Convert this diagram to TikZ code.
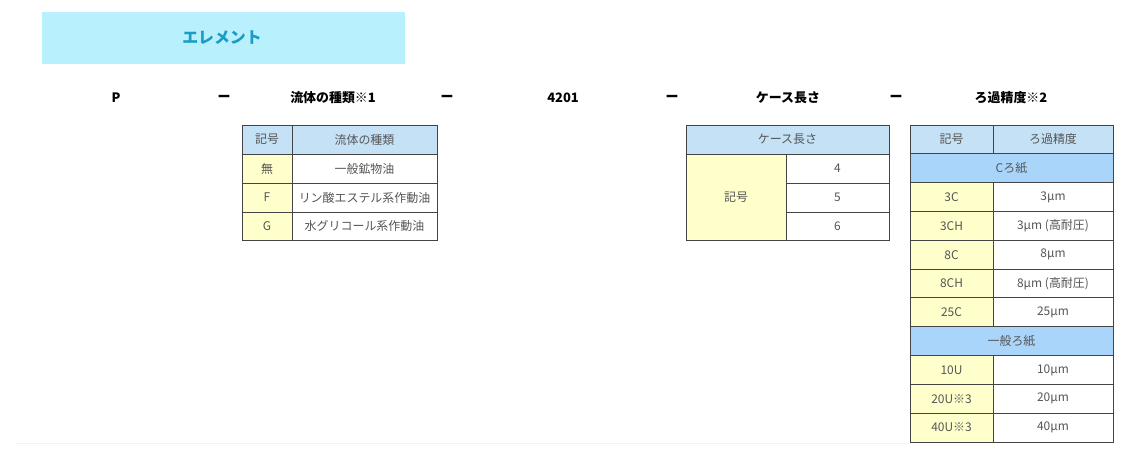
\documentclass[tikz,border=0pt]{standalone}
\usepackage{fontspec}
\setmainfont{Noto Sans CJK JP}
\usepackage{xcolor}
\usepackage{tikz}

\definecolor{titlebg}{HTML}{B9F0FD}
\definecolor{titlefg}{HTML}{1A9CC5}
\definecolor{headbg}{HTML}{C5E1F5}
\definecolor{groupbg}{HTML}{A9D5FB}
\definecolor{codebg}{HTML}{FFFFCC}
\definecolor{celltext}{HTML}{555555}
\definecolor{gridline}{HTML}{444444}

\begin{document}
\begin{tikzpicture}[x=0.025cm,y=-0.025cm,
    head/.style={font=\bfseries\fontsize{9.2}{11}\selectfont},
    cell/.style={text=celltext,font=\fontsize{8.5}{10}\selectfont},
    box/.style={draw=gridline,line width=0.7pt}]
            \useasboundingbox (0,0) rectangle (1124,450);
            % title
            \fill [titlebg] (42,12) rectangle (405,64);
            \node [text=titlefg,font=\bfseries\fontsize{11.3}{13}\selectfont] (title) at (222,38) {エレメント};
            % code line
            \node [head] (hP) at (116,98) {P};
            \node [head] (d1) at (224,98) {ー};
            \node [head] (hFluid) at (333,98) {流体の種類※1};
            \node [head] (d2) at (447,98) {ー};
            \node [head] (hNum) at (563,98) {4201};
            \node [head] (d3) at (672,98) {ー};
            \node [head] (hCase) at (788,98) {ケース長さ};
            \node [head] (d4) at (896,98) {ー};
            \node [head] (hFilter) at (1011,98) {ろ過精度※2};
            % fluid table
            \filldraw [box,fill=headbg] (242,125) rectangle (292,154);
            \filldraw [box,fill=headbg] (292,125) rectangle (437,154);
            \filldraw [box,fill=codebg] (242,154) rectangle (292,183);
            \filldraw [box,fill=white] (292,154) rectangle (437,183);
            \filldraw [box,fill=codebg] (242,183) rectangle (292,212);
            \filldraw [box,fill=white] (292,183) rectangle (437,212);
            \filldraw [box,fill=codebg] (242,212) rectangle (292,240);
            \filldraw [box,fill=white] (292,212) rectangle (437,240);
            \node [cell] (fK) at (267,139.5) {記号};
            \node [cell] (fT) at (364.5,139.5) {流体の種類};
            \node [cell] (fK1) at (267,168.5) {無};
            \node [cell] (fT1) at (364.5,168.5) {一般鉱物油};
            \node [cell] (fK2) at (267,197.5) {F};
            \node [cell] (fT2) at (364.5,197.5) {リン酸エステル系作動油};
            \node [cell] (fK3) at (267,226) {G};
            \node [cell] (fT3) at (364.5,226) {水グリコール系作動油};
            % case table
            \filldraw [box,fill=headbg] (686,125) rectangle (889,154);
            \filldraw [box,fill=codebg] (686,154) rectangle (786,240);
            \filldraw [box,fill=white] (786,154) rectangle (889,183);
            \filldraw [box,fill=white] (786,183) rectangle (889,212);
            \filldraw [box,fill=white] (786,212) rectangle (889,240);
            \node [cell] (cH) at (787.5,139.5) {ケース長さ};
            \node [cell] (cK) at (736,197) {記号};
            \node [cell] (c4) at (837.5,168.5) {4};
            \node [cell] (c5) at (837.5,197.5) {5};
            \node [cell] (c6) at (837.5,226) {6};
            % filter table
            \filldraw [box,fill=headbg] (910,125) rectangle (993,153.8);
            \filldraw [box,fill=headbg] (993,125) rectangle (1113,153.8);
            \filldraw [box,fill=groupbg] (910,153.8) rectangle (1113,182.6);
            \filldraw [box,fill=codebg] (910,182.6) rectangle (993,211.5);
            \filldraw [box,fill=white] (993,182.6) rectangle (1113,211.5);
            \filldraw [box,fill=codebg] (910,211.5) rectangle (993,240.3);
            \filldraw [box,fill=white] (993,211.5) rectangle (1113,240.3);
            \filldraw [box,fill=codebg] (910,240.3) rectangle (993,269.1);
            \filldraw [box,fill=white] (993,240.3) rectangle (1113,269.1);
            \filldraw [box,fill=codebg] (910,269.1) rectangle (993,297.9);
            \filldraw [box,fill=white] (993,269.1) rectangle (1113,297.9);
            \filldraw [box,fill=codebg] (910,297.9) rectangle (993,326.7);
            \filldraw [box,fill=white] (993,297.9) rectangle (1113,326.7);
            \filldraw [box,fill=groupbg] (910,326.7) rectangle (1113,355.5);
            \filldraw [box,fill=codebg] (910,355.5) rectangle (993,384.4);
            \filldraw [box,fill=white] (993,355.5) rectangle (1113,384.4);
            \filldraw [box,fill=codebg] (910,384.4) rectangle (993,413.2);
            \filldraw [box,fill=white] (993,384.4) rectangle (1113,413.2);
            \filldraw [box,fill=codebg] (910,413.2) rectangle (993,442);
            \filldraw [box,fill=white] (993,413.2) rectangle (1113,442);
            \node [cell] (pK) at (951.5,139.4) {記号};
            \node [cell] (pT) at (1053,139.4) {ろ過精度};
            \node [cell] (pC) at (1011.5,168.2) {Cろ紙};
            \node [cell] (pK1) at (951.5,197) {3C};
            \node [cell] (pT1) at (1053,197) {3μm};
            \node [cell] (pK2) at (951.5,225.9) {3CH};
            \node [cell] (pT2) at (1053,225.9) {3μm (高耐圧)};
            \node [cell] (pK3) at (951.5,254.7) {8C};
            \node [cell] (pT3) at (1053,254.7) {8μm};
            \node [cell] (pK4) at (951.5,283.5) {8CH};
            \node [cell] (pT4) at (1053,283.5) {8μm (高耐圧)};
            \node [cell] (pK5) at (951.5,312.3) {25C};
            \node [cell] (pT5) at (1053,312.3) {25μm};
            \node [cell] (pU) at (1011.5,341.1) {一般ろ紙};
            \node [cell] (pK6) at (951.5,370) {10U};
            \node [cell] (pT6) at (1053,370) {10μm};
            \node [cell] (pK7) at (951.5,398.8) {20U※3};
            \node [cell] (pT7) at (1053,398.8) {20μm};
            \node [cell] (pK8) at (951.5,427.6) {40U※3};
            \node [cell] (pT8) at (1053,427.6) {40μm};
            % faint rule at the bottom
            \draw [black!5,line width=0.6pt] (15,443) -- (910,443);
        \end{tikzpicture}
\end{document}
